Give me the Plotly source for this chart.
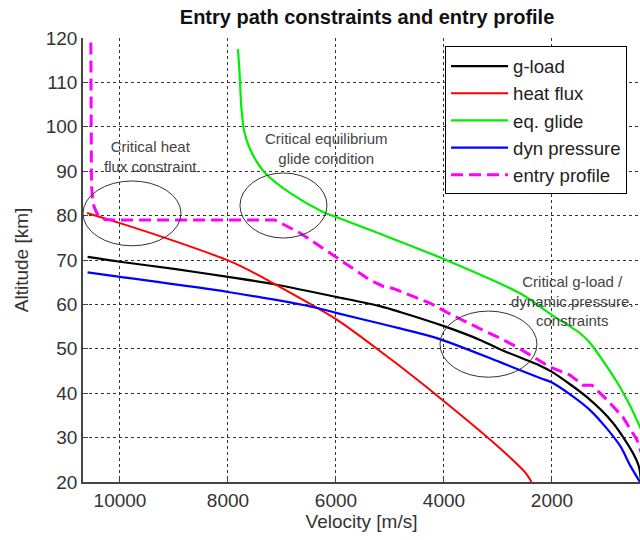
import plotly.graph_objects as go

# ---------------- data ----------------
gload_v = [10600, 10000, 9000, 8000, 7167, 6000, 5185, 4815, 4000, 3333, 2963, 2222, 2000, 1352, 870, 500, 389, 350]
gload_h = [70.7, 69.6, 68.0, 66.2, 64.6, 61.7, 59.6, 58.3, 55.1, 52.0, 49.9, 46.2, 44.8, 39.1, 33.3, 26.5, 23.4, 20.0]

heat_v = [10611, 10000, 9000, 8000, 7500, 7167, 6000, 5000, 4000, 3000, 2500, 2380]
heat_h = [80.6, 78.3, 74.3, 69.9, 67.0, 64.8, 56.7, 47.8, 38.2, 28.0, 22.2, 20.0]

glide_v = [7815, 7790, 7778, 7750, 7700, 7593, 7450, 7315, 6852, 6241, 6000, 5185, 4000, 2593, 2000, 1481, 1296, 741, 370, 300]
glide_h = [117.5, 113.0, 110.0, 104.0, 99.0, 95.0, 91.8, 89.6, 85.1, 80.8, 79.7, 75.9, 70.2, 62.5, 57.6, 53.5, 51.3, 41.4, 32.4, 30.0]

dyn_v = [10600, 10000, 8000, 6350, 6000, 5185, 4815, 4130, 2963, 2222, 2000, 1296, 741, 556, 370]
dyn_h = [67.2, 66.2, 62.8, 59.2, 58.1, 55.7, 54.6, 52.4, 47.0, 43.4, 42.4, 36.2, 28.2, 23.8, 20.0]

prof_v = [10540, 10538, 10535, 10528, 10510, 10480, 10430, 10370, 10278, 10000, 9000, 8000, 7130, 6667, 5981, 5370, 5130,
          4944, 4259, 3945, 3278, 2963, 2648, 2037, 1667, 1426, 1259, 981, 685, 426, 330]
prof_h = [119.0, 100.0, 92.0, 87.0, 84.0, 82.0, 80.6, 79.8, 79.1, 79.0, 79.0, 79.0, 79.0, 76.1, 70.5, 65.5, 64.1,
          63.6, 60.3, 58.2, 54.2, 52.4, 50.4, 45.9, 44.1, 41.8, 41.8, 38.5, 34.6, 29.5, 26.0]

x_ticks = [10000, 8000, 6000, 4000, 2000]
y_ticks = [20, 30, 40, 50, 60, 70, 80, 90, 100, 110, 120]

notes = ["Critical heat<br>flux constraint",
         "Critical equilibrium<br>glide condition",
         "Critical g-load /<br>dynamic.pressure.<br>constraints"]
note_v = [9444, 6185, 1611]
note_h = [93.2, 95.2, 60.8]

ell_v0 = [10685, 7778, 4074]
ell_v1 = [8870, 6167, 2278]
ell_h0 = [73.2, 74.95, 43.6]
ell_h1 = [87.8, 89.6, 58.5]

# ---------------- figure ----------------
FONT = "Liberation Sans, Arial, sans-serif"
fig = go.Figure()

series = [
    ("g-load", gload_v, gload_h, "#000000", 2.2, "solid", "spline"),
    ("heat flux", heat_v, heat_h, "#ff0000", 2.0, "solid", "spline"),
    ("eq. glide", glide_v, glide_h, "#00ee00", 2.2, "solid", "spline"),
    ("dyn pressure", dyn_v, dyn_h, "#0000ff", 2.2, "solid", "spline"),
    ("entry profile", prof_v, prof_h, "#ff00ff", 3.0, "12px,6px", "linear"),
]
for i, (name, vx, hy, col, w, dash, shape) in enumerate(series):
    ln = dict(color=col, width=w, dash=dash, shape=shape)
    if shape == "spline":
        ln["smoothing"] = 0.8
    fig.add_trace(go.Scatter(x=vx, y=hy, mode="lines", name=name, line=ln))

for v0, v1, h0, h1 in zip(ell_v0, ell_v1, ell_h0, ell_h1):
    fig.add_shape(type="circle", xref="x", yref="y", x0=v0, x1=v1, y0=h0, y1=h1,
                  line=dict(color="#333333", width=1))

for t, vx, hy in zip(notes, note_v, note_h):
    fig.add_annotation(x=vx, y=hy, text=t, showarrow=False, xref="x", yref="y",
                       font=dict(family=FONT, size=15, color="#444444"), align="center")

fig.update_layout(
    width=640, height=540,
    margin=dict(l=83, r=0, t=38, b=58),
    paper_bgcolor="white", plot_bgcolor="white",
    font=dict(family=FONT, color="#333333"),
    title=dict(text="<b>Entry path constraints and entry profile</b>",
               x=0.51, xref="paper", y=(540 - 17) / 540, yref="container",
               xanchor="center", yanchor="middle",
               font=dict(family=FONT, size=20, color="#111111")),
    showlegend=True,
    legend=dict(x=0.65, y=0.981, xanchor="left", yanchor="top",
                bgcolor="white", bordercolor="#000000", borderwidth=1,
                font=dict(family=FONT, size=18.6, color="#222222"),
                tracegroupgap=0, itemwidth=57),
    xaxis=dict(range=[10685, 370], tickmode="array", tickvals=x_ticks,
               ticktext=[str(t) for t in x_ticks],
               showgrid=True, gridcolor="#333333", griddash="dot", gridwidth=1,
               showline=True, linecolor="#444444", linewidth=1.5,
               ticks="inside", ticklen=5, tickcolor="#444444",
               tickfont=dict(family=FONT, size=19, color="#333333"),
               zeroline=False,
               title=dict(text="Velocity [m/s]", font=dict(family=FONT, size=19, color="#333333"),
                          standoff=4)),
    yaxis=dict(range=[20, 120], tickmode="array", tickvals=y_ticks,
               showgrid=True, gridcolor="#333333", griddash="dot", gridwidth=1,
               showline=True, linecolor="#444444", linewidth=1.5,
               ticks="inside", ticklen=5, tickcolor="#444444",
               tickfont=dict(family=FONT, size=19, color="#333333"),
               zeroline=False,
               title=dict(text="Altitude [km]", font=dict(family=FONT, size=19, color="#333333"),
                          standoff=12)),
)

fig.write_html("out.html")
